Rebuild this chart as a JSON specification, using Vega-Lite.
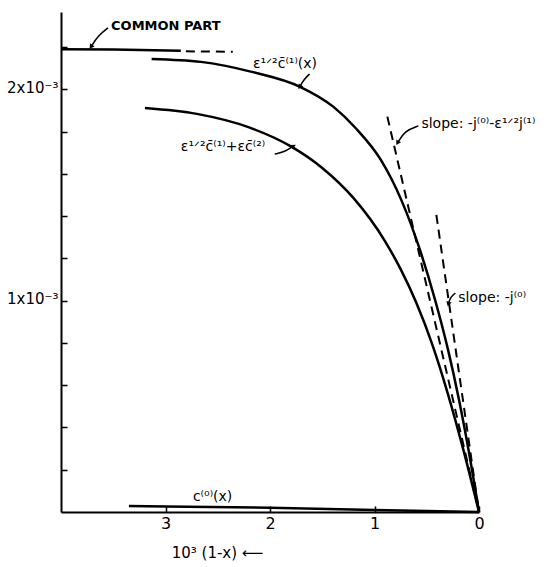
{
  "$schema": "https://vega.github.io/schema/vega-lite/v6.json",
  "width": 418,
  "height": 500,
  "autosize": {"type": "none"},
  "padding": {"left": 61, "top": 12, "right": 74, "bottom": 55},
  "background": "white",
  "config": {"view": {"stroke": null}, "font": "DejaVu Sans"},
  "datasets": {
    "curves": [
      {"series": "c1", "v": 3.133, "c": 2.144},
      {"series": "c1", "v": 2.662, "c": 2.130},
      {"series": "c1", "v": 2.184, "c": 2.084},
      {"series": "c1", "v": 1.707, "c": 2.011},
      {"series": "c1", "v": 1.392, "c": 1.917},
      {"series": "c1", "v": 1.181, "c": 1.817},
      {"series": "c1", "v": 0.939, "c": 1.666},
      {"series": "c1", "v": 0.744, "c": 1.477},
      {"series": "c1", "v": 0.565, "c": 1.240},
      {"series": "c1", "v": 0.420, "c": 1.003},
      {"series": "c1", "v": 0.296, "c": 0.767},
      {"series": "c1", "v": 0.191, "c": 0.530},
      {"series": "c1", "v": 0.100, "c": 0.293},
      {"series": "c1", "v": 0, "c": 0},
      {"series": "c2", "v": 3.197, "c": 1.912},
      {"series": "c2", "v": 2.7, "c": 1.884},
      {"series": "c2", "v": 2.2, "c": 1.820},
      {"series": "c2", "v": 1.8, "c": 1.730},
      {"series": "c2", "v": 1.5, "c": 1.628},
      {"series": "c2", "v": 1.2, "c": 1.485},
      {"series": "c2", "v": 0.9, "c": 1.282},
      {"series": "c2", "v": 0.75, "c": 1.149},
      {"series": "c2", "v": 0.6, "c": 0.990},
      {"series": "c2", "v": 0.45, "c": 0.797},
      {"series": "c2", "v": 0.3, "c": 0.563},
      {"series": "c2", "v": 0.15, "c": 0.295},
      {"series": "c2", "v": 0, "c": 0},
      {"series": "c0", "v": 3.35, "c": 0.028},
      {"series": "c0", "v": 3.0, "c": 0.026},
      {"series": "c0", "v": 2.0, "c": 0.020},
      {"series": "c0", "v": 1.0, "c": 0.010},
      {"series": "c0", "v": 0.5, "c": 0.005},
      {"series": "c0", "v": 0, "c": 0},
      {"series": "common", "v": 4.0, "c": 2.190},
      {"series": "common", "v": 3.5, "c": 2.188},
      {"series": "common", "v": 2.853, "c": 2.183},
      {"series": "commonDash", "v": 2.805, "c": 2.180},
      {"series": "commonDash", "v": 2.356, "c": 2.178},
      {"series": "slope1", "v": 0.877, "c": 1.871},
      {"series": "slope1", "v": 0, "c": 0},
      {"series": "slope2", "v": 0.408, "c": 1.406},
      {"series": "slope2", "v": 0, "c": 0}
    ],
    "arrows": [
      {"arrow": "a1", "v": 3.550, "c": 2.291},
      {"arrow": "a1", "v": 3.646, "c": 2.253},
      {"arrow": "a1", "v": 3.713, "c": 2.201},
      {"arrow": "a2", "v": 1.621, "c": 2.073},
      {"arrow": "a2", "v": 1.678, "c": 2.045},
      {"arrow": "a2", "v": 1.716, "c": 2.011},
      {"arrow": "a3", "v": 1.955, "c": 1.694},
      {"arrow": "a3", "v": 1.859, "c": 1.704},
      {"arrow": "a3", "v": 1.773, "c": 1.732},
      {"arrow": "a4", "v": 0.580, "c": 1.827},
      {"arrow": "a4", "v": 0.713, "c": 1.803},
      {"arrow": "a4", "v": 0.780, "c": 1.746},
      {"arrow": "a5", "v": 0.226, "c": 1.036},
      {"arrow": "a5", "v": 0.274, "c": 1.017},
      {"arrow": "a5", "v": 0.293, "c": 0.984}
    ],
    "heads": [
      {"arrow": "a1", "v": 3.713, "c": 2.201},
      {"arrow": "a2", "v": 1.716, "c": 2.011},
      {"arrow": "a3", "v": 1.773, "c": 1.732},
      {"arrow": "a4", "v": 0.780, "c": 1.746},
      {"arrow": "a5", "v": 0.293, "c": 0.984}
    ],
    "labels": [
      {"label": "ε¹ᐟ²c̄⁽¹⁾(x)", "v": 2.163, "c": 2.120},
      {"label": "ε¹ᐟ²c̄⁽¹⁾+εc̄⁽²⁾", "v": 2.853, "c": 1.727},
      {"label": "slope: -j⁽⁰⁾-ε¹ᐟ²j⁽¹⁾", "v": 0.551, "c": 1.836},
      {"label": "slope: -j⁽⁰⁾", "v": 0.198, "c": 1.013},
      {"label": "c⁽⁰⁾(x)", "v": 2.738, "c": 0.071}
    ],
    "title": [
      {"label": "COMMON PART", "v": 3.521, "c": 2.300}
    ]
  },
  "encoding": {
    "x": {
      "field": "v", "type": "quantitative",
      "scale": {"domain": [0, 4], "reverse": true, "nice": false, "zero": false},
      "axis": {
        "values": [0, 1, 2, 3], "format": "d", "grid": false,
        "tickSize": -6, "tickWidth": 1.5, "tickColor": "black",
        "domainColor": "black", "domainWidth": 2,
        "labelPadding": 9, "labelFontSize": 16, "labelFont": "DejaVu Sans", "labelColor": "black",
        "labelFlush": false, "labelOverlap": false,
        "title": "10³ (1-x) ⟵", "titleX": 156, "titleY": 40, "titleFontSize": 15,
        "titleFont": "DejaVu Sans", "titleFontWeight": "normal", "titleBaseline": "middle",
        "titleAlign": "center", "titleAnchor": null, "titleColor": "black"
      }
    },
    "y": {
      "field": "c", "type": "quantitative",
      "scale": {"domain": [0, 2.366], "nice": false, "zero": false},
      "axis": {
        "values": [0.2, 0.4, 0.6, 0.8, 1, 1.2, 1.4, 1.6, 1.8, 2, 2.2], "grid": false,
        "tickSize": -6, "tickWidth": 1.5, "tickColor": "black",
        "domainColor": "black", "domainWidth": 2,
        "labelExpr": "datum.value == 1 ? '1x10⁻³' : (datum.value == 2 ? '2x10⁻³' : '')",
        "labelPadding": 9, "labelFontSize": 15, "labelFont": "DejaVu Sans", "labelColor": "black",
        "labelBaseline": "middle", "labelOffset": -2, "labelOverlap": false, "labelFlush": false,
        "title": null
      }
    }
  },
  "layer": [
    {
      "data": {"name": "curves"},
      "transform": [{"filter": "datum.series == 'c1' || datum.series == 'c2'"}],
      "mark": {"type": "line", "color": "black", "strokeWidth": 2.5, "interpolate": "monotone"},
      "encoding": {"detail": {"field": "series"}}
    },
    {
      "data": {"name": "curves"},
      "transform": [{"filter": "datum.series == 'c0' || datum.series == 'common'"}],
      "mark": {"type": "line", "color": "black", "strokeWidth": 2.5},
      "encoding": {"detail": {"field": "series"}}
    },
    {
      "data": {"name": "curves"},
      "transform": [{"filter": "datum.series == 'commonDash' || datum.series == 'slope1' || datum.series == 'slope2'"}],
      "mark": {"type": "line", "color": "black", "strokeWidth": 2, "strokeDash": [9, 6]},
      "encoding": {"detail": {"field": "series"}}
    },
    {
      "data": {"name": "arrows"},
      "mark": {"type": "line", "color": "black", "strokeWidth": 1.5, "interpolate": "basis"},
      "encoding": {"detail": {"field": "arrow"}, "order": {"field": "c", "sort": "descending"}}
    },
    {
      "data": {"name": "heads"},
      "transform": [{"filter": "datum.arrow == 'a1' || datum.arrow == 'a2'"}],
      "mark": {"type": "point", "shape": "triangle-up", "filled": true, "color": "black", "size": 30, "angle": 214, "opacity": 1}
    },
    {
      "data": {"name": "heads"},
      "transform": [{"filter": "datum.arrow == 'a3'"}],
      "mark": {"type": "point", "shape": "triangle-up", "filled": true, "color": "black", "size": 30, "angle": 58, "opacity": 1}
    },
    {
      "data": {"name": "heads"},
      "transform": [{"filter": "datum.arrow == 'a4'"}],
      "mark": {"type": "point", "shape": "triangle-up", "filled": true, "color": "black", "size": 30, "angle": 210, "opacity": 1}
    },
    {
      "data": {"name": "heads"},
      "transform": [{"filter": "datum.arrow == 'a5'"}],
      "mark": {"type": "point", "shape": "triangle-up", "filled": true, "color": "black", "size": 30, "angle": 196, "opacity": 1}
    },
    {
      "data": {"name": "labels"},
      "mark": {"type": "text", "align": "left", "baseline": "middle", "fontSize": 14, "font": "DejaVu Sans", "color": "black"},
      "encoding": {"text": {"field": "label"}}
    },
    {
      "data": {"name": "title"},
      "mark": {"type": "text", "align": "left", "baseline": "middle", "fontSize": 13, "fontWeight": "bold", "font": "DejaVu Sans", "color": "black"},
      "encoding": {"text": {"field": "label"}}
    }
  ]
}
